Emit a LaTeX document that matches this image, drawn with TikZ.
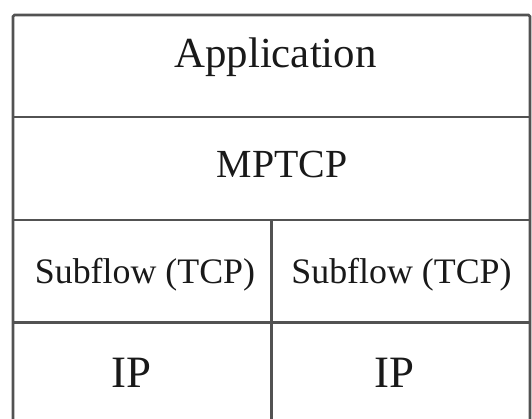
\documentclass[tikz,border=0pt]{standalone}
\usepackage{fontspec}
\setmainfont{Liberation Serif}
\usetikzlibrary{positioning}

\tikzset{
    rule/.style={draw=black!68, line width=2.6bp},
    layer/.style={anchor=base, inner sep=0pt, text=black!90}
}

\begin{document}
\begin{tikzpicture}[x=1bp, y=-1bp]
        \useasboundingbox (0,0) rectangle (532,418);
        \clip (0,0) rectangle (532,418);
        % grid of the stack
        \coordinate (tl) at (13,15);
        \coordinate (tr) at (530,15);
        \coordinate (bl) at (13,430);
        \coordinate (br) at (530,430);
        \coordinate (a1) at (13,117);   \coordinate (a2) at (530,117);
        \coordinate (m1) at (13,220);   \coordinate (m2) at (530,220);
        \coordinate (s1) at (13,322.5); \coordinate (s2) at (530,322.5);
        \coordinate (mid) at (271.5,220);
        \coordinate (midb) at (271.5,430);
        \draw[rule, rounded corners=1.5bp] (bl) -- (tl) -- (tr) -- (br);
        \draw[rule] (a1) -- (a2);
        \draw[rule] (m1) -- (m2);
        \draw[rule] (s1) -- (s2);
        \draw[rule] (mid) -- (midb);
        % labels
        \node[layer, font=\fontsize{43}{43}\selectfont] (app) at (275.5,67) {Application};
        \node[layer, font=\fontsize{40}{40}\selectfont] (mptcp) at (282,177) {MPTCP};
        \node[layer, font=\fontsize{36}{36}\selectfont] (sub1) at (145,283) {Subflow (TCP)};
        \node[layer, font=\fontsize{36}{36}\selectfont] (sub2) at (401.5,283) {Subflow (TCP)};
        \node[layer, font=\fontsize{45}{45}\selectfont] (ip1) at (131.5,387) {IP};
        \node[layer, font=\fontsize{45}{45}\selectfont] (ip2) at (394.5,387) {IP};
    \end{tikzpicture}
\end{document}
